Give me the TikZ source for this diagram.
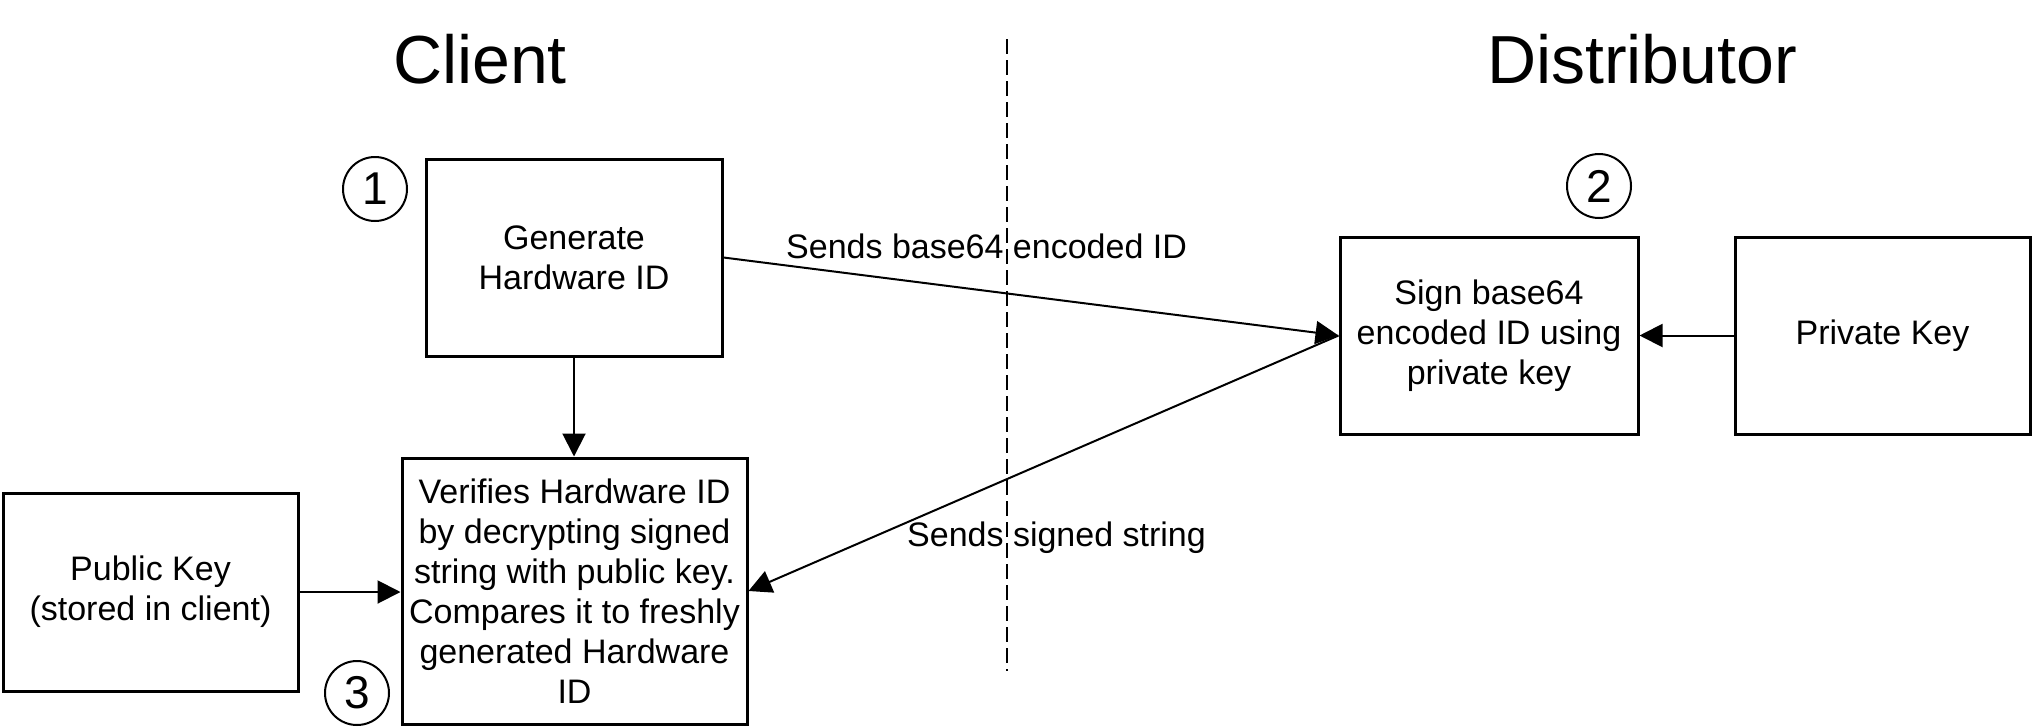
\documentclass[tikz,border=0pt]{standalone}
\usepackage{fontspec}
\setmainfont{Liberation Sans}
\usetikzlibrary{arrows.meta,calc}
\begin{document}
\begin{tikzpicture}[x=1pt,y=-1pt,
  box/.style={draw,line width=3pt,inner sep=0pt,align=center,font=\fontsize{34}{40}\selectfont},
  numcirc/.style={draw,circle,line width=2pt,minimum size=64pt,inner sep=0pt,font=\fontsize{46}{46}\selectfont},
  titletext/.style={anchor=base,inner sep=0pt,font=\fontsize{68}{68}\selectfont},
  lbl/.style={anchor=base west,inner sep=0pt,font=\fontsize{34}{40}\selectfont},
  arr/.style={line width=2pt,-{Triangle[length=23pt,width=23pt]}},
  divider/.style={line width=2.5pt,dash pattern=on 15pt off 6pt}]
\useasboundingbox (0,0) rectangle (2032,726);

\node[titletext] (client) at (480,83) {Client};
\node[titletext] (distributor) at (1642,83) {Distributor};

\node[box,minimum width=296pt,minimum height=197pt] (gen) at (574,257.5) {Generate\\Hardware ID};
\node[box,minimum width=298pt,minimum height=197pt] (sign) at (1489,335.5) {Sign base64\\encoded ID using\\private key};
\node[box,minimum width=295pt,minimum height=197pt] (priv) at (1882.5,335.5) {Private Key};
\node[box,minimum width=345pt,minimum height=266pt] (verif) at (574.5,591) {Verifies Hardware ID\\by decrypting signed\\string with public key.\\Compares it to freshly\\generated Hardware\\ID};
\node[box,minimum width=295pt,minimum height=198pt] (pub) at (150.5,592) {Public Key\\(stored in client)};

\node[numcirc] (c1) at (375,189) {1};
\node[numcirc] (c2) at (1599,186) {2};
\node[numcirc] (c3) at (357,693) {3};

\node[lbl] (lab1) at (786,258) {Sends base64 encoded ID};
\node[lbl] (lab2) at (907,546) {Sends signed string};

\coordinate (dtop) at (1007,39);
\coordinate (dbot) at (1007,671);
\draw[divider] (dtop) -- (dbot);

\draw[arr] (gen.east) -- (sign.west);
\draw[arr] (sign.west) -- (verif.east);
\draw[arr] (priv.west) -- (sign.east);
\draw[arr] (pub.east) -- (pub.east -| verif.west);
\draw[arr] (gen.south) -- (gen.south |- verif.north);
\end{tikzpicture}
\end{document}
